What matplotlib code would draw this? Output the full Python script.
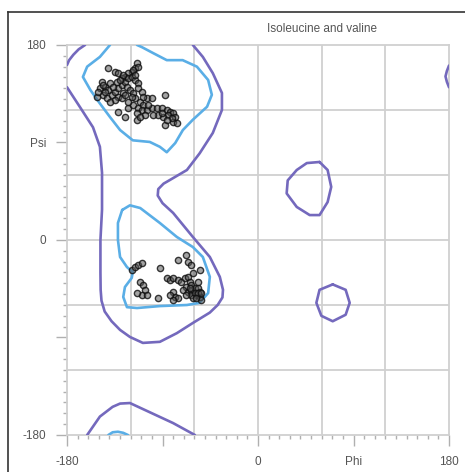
import matplotlib
matplotlib.use('Agg')
import matplotlib.pyplot as plt
from matplotlib.lines import Line2D

plt.rcParams['font.family'] = ['Liberation Sans', 'DejaVu Sans']

titulo = 'Isoleucine and valine'

# contornos (phi, psi)
morado_arriba_phi = [-163, -169, -174, -178, -180]
morado_arriba_psi = [180, 176, 171, 166, 161.5]

morado_phi = [-180, -168, -155.5, -149, -147, -147, -148.5, -148.5, -148.3, -147.5, -144.5,
              -138, -130, -120.7, -108.5, -92.5, -76.5, -61.4, -45.4, -38, -33.5, -33, -36,
              -45.4, -61.4, -80, -90, -94.5, -94, -89, -83, -67, -55, -42.6, -34, -34,
              -42.6, -52, -61.4]
morado_psi = [141, 123, 104, 86, 62, 28, 0, -30, -46, -56, -66,
              -75, -83, -89.5, -95, -94, -86, -76.6, -67, -60, -53, -46, -34,
              -15.7, 2.8, 25, 34, 41, 47, 52, 55.4, 64.6, 80, 98.8, 120, 135.7,
              154, 169, 180]

morado_derecha_phi = [180, 178, 176.7, 178, 180]
morado_derecha_psi = [161, 156, 151, 146, 141]

morado_abajo_phi = [-161, -149, -137, -130, -120.7, -102, -80, -59.5]
morado_abajo_psi = [-180, -163, -154, -151, -150.5, -159, -169, -180]

morado_ovalo_phi = [58, 65.6, 69, 65.6, 58, 48.7, 36.5, 27, 28, 36.5, 46, 58]
morado_ovalo_psi = [72, 64.6, 49, 35, 23, 23, 30.5, 43, 55, 64.6, 71, 72]

morado_circulo_phi = [70.4, 82.6, 86.4, 82.6, 70.4, 59.7, 55, 58, 70.4]
morado_circulo_psi = [-41, -46, -58, -69, -75, -70, -58, -46, -41]

azul_arriba_phi = [-139.5, -149, -161, -165, -158, -149, -139.5, -130, -118, -102, -92.5,
                   -86, -78, -70.8, -61.4, -48, -43.5, -47, -57.6, -71, -86, -99, -109.4, -114]
azul_arriba_psi = [180, 169, 160, 150.5, 138.5, 126, 113.5, 101.5, 92, 90.5, 86,
                   81, 89.5, 101.5, 111, 123, 134, 147.7, 160, 166, 166, 172.6, 178, 180]

azul_abajo_phi = [-128, -120.7, -111, -92.5, -76.5, -61.4, -52, -45.4, -47, -55, -67, -92.5,
                  -114, -123.5, -127, -125.4, -119, -118, -123.5, -130, -132, -132, -128]
azul_abajo_psi = [27.7, 32, 29.5, 15.7, 2.8, -6.5, -15.7, -34, -49, -58, -60, -61,
                  -62.8, -62, -52.6, -43.4, -35, -29.5, -25, -15.7, 0, 15.7, 27.7]

azul_borde_phi = [-141, -137, -132, -127, -122.6]
azul_borde_psi = [-180, -177.5, -177, -178, -180]

# residuos
phi_beta = [-141.1, -134.8, -131.7, -114.4, -116, -119.1, -122.3, -125.4, -128.6, -147.4,
            -149, -144.2, -141.1, -145.8, -152.1, -142.7, -138, -134.8, -131.7, -128.6,
            -125.4, -122.3, -119.1, -116, -112.9, -123.8, -120.7, -117.6, -127, -131.7,
            -134.8, -112.9, -109.7, -116, -111.3, -108.2, -105, -100.3, -87.8, -122.3,
            -117.6, -112.9, -109.7, -105, -131.7, -125.4, -114.4, -100.3, -95.6, -90.9,
            -86.2, -83.1, -79.9, -78.4, -84.6, -89.3, -94.1, -87.8, -79.9, -76.8,
            -98.8, -106.6, -145.8, -139.5, -136.4, -133.2, -130.1, -127, -117.6, -112.9,
            -116, -150.5, -144.2, -139.5, -128.6, -125.4, -119.1, -122.3, -108.2, -114.4,
            -111.3, -103.5, -90.9, -81.5, -86.2]
psi_beta = [158.5, 155.4, 153.8, 163.1, 158.5, 155.4, 153.9, 150.8, 149.2, 146.2,
            140, 141.5, 138.5, 133.8, 132.3, 130.8, 133.8, 136.9, 140, 143.1,
            146.2, 149.2, 150.8, 147.7, 144.6, 141.5, 138.5, 135.4, 135.4, 132.3,
            129.2, 140, 136.9, 130.8, 127.7, 124.6, 130.8, 130.8, 133.8, 121.5,
            124.6, 121.5, 120, 120, 118.5, 113.8, 110.8, 121.5, 121.5, 121.5,
            120, 118.5, 116.9, 113.8, 115.4, 113.8, 115.4, 106.2, 109.2, 107.7,
            115.4, 115.4, 143.1, 144.6, 141.5, 146.2, 147.7, 152.3, 156.9, 160,
            152.3, 136.9, 136.9, 127.7, 130.8, 133.8, 132.3, 127.7, 132.3, 116.9,
            113.8, 124.6, 116.9, 112.3, 110.8]

phi_alfa = [-119.1, -116, -112.9, -109.7, -92.5, -75.2, -67.4, -65.8, -62.7, -54.8,
            -111.3, -108.2, -106.6, -109.7, -105, -114.4, -94, -86.2, -83.1, -79.9,
            -75.2, -72.1, -68.9, -65.8, -64.2, -62.7, -67.4, -70.5, -65.8, -62.7,
            -59.5, -56.4, -54.8, -58, -62.7, -67.4, -54.8, -53.3, -79.9, -78.4,
            -75.2, -79.9, -83.1, -56.4, -61.1, -59.5, -56.4, -61.1, -58, -64.2, -53.3]
psi_alfa = [-27.7, -24.6, -23.1, -21.5, -26.2, -18.5, -13.9, -20, -23.1, -27.7,
            -38.5, -41.5, -46.2, -50.8, -50.8, -49.2, -53.9, -35.4, -36.9, -35.4,
            -36.9, -38.5, -35.4, -33.9, -38.5, -41.5, -43.1, -46.2, -47.7, -46.2,
            -44.6, -44.6, -47.7, -50.8, -50.8, -50.8, -52.3, -55.4, -47.7, -52.3,
            -53.9, -55.4, -50.8, -38.5, -30.8, -49.2, -49.2, -53.9, -53.9, -44.6, -49.2]

morado = '#7469bd'
azul = '#5aaee6'
gris = '#d0d0d0'

fig = plt.figure(figsize=(4.65, 4.72), dpi=100)
ax = fig.add_axes([0.1441, 0.0784, 0.8215, 0.8263])

for p, s in [(morado_arriba_phi, morado_arriba_psi), (morado_phi, morado_psi),
             (morado_derecha_phi, morado_derecha_psi), (morado_abajo_phi, morado_abajo_psi),
             (morado_ovalo_phi, morado_ovalo_psi), (morado_circulo_phi, morado_circulo_psi)]:
  ax.plot(p, s, color=morado, lw=1.9, solid_joinstyle='round', solid_capstyle='round', zorder=3)

for p, s in [(azul_arriba_phi, azul_arriba_psi), (azul_abajo_phi, azul_abajo_psi),
             (azul_borde_phi, azul_borde_psi)]:
  ax.plot(p, s, color=azul, lw=1.9, solid_joinstyle='round', solid_capstyle='round', zorder=3)

ax.plot(phi_beta + phi_alfa, psi_beta + psi_alfa, 'o', ms=4.5, mfc=(0.35, 0.35, 0.35, 0.55),
        mec=(0.05, 0.05, 0.05, 0.8), mew=1.0, zorder=4)

ax.set_xlim(-180, 180)
ax.set_ylim(-180, 180)
ax.set_xticks([-180, -90, 0, 90, 180])
ax.set_xticklabels(['-180', '', '0', 'Phi', '180'])
ax.set_yticks([-180, -90, 0, 90, 180])
ax.set_yticklabels(['-180', '', '0', 'Psi', '180'])
ax.set_xticks(range(-180, 181, 10), minor=True)
ax.set_yticks(range(-180, 181, 10), minor=True)
ax.tick_params(which='major', direction='out', length=8, width=1, color='#b0b0b0',
               labelsize=8.5, labelcolor='#555555', pad=7)
ax.tick_params(which='minor', direction='out', length=3, width=1, color='#b0b0b0')

for v in range(-120, 180, 60):
  ax.axvline(v, color=gris, lw=1.3, zorder=1)
  ax.axhline(v, color=gris, lw=1.3, zorder=1)
for lado in ax.spines.values():
  lado.set_color(gris)
  lado.set_linewidth(1.3)

fig.text(322 / 465, 1 - 29 / 472, titulo, ha='center', va='center', fontsize=8.5, color='#555555')

# marco negro de la captura
fig.add_artist(Line2D([8 / 465, 8 / 465], [0, 1 - 12 / 472], color='#333333', lw=1.2))
fig.add_artist(Line2D([8 / 465, 1], [1 - 12 / 472, 1 - 12 / 472], color='#333333', lw=1.2))

plt.savefig('out.png')
plt.close()
